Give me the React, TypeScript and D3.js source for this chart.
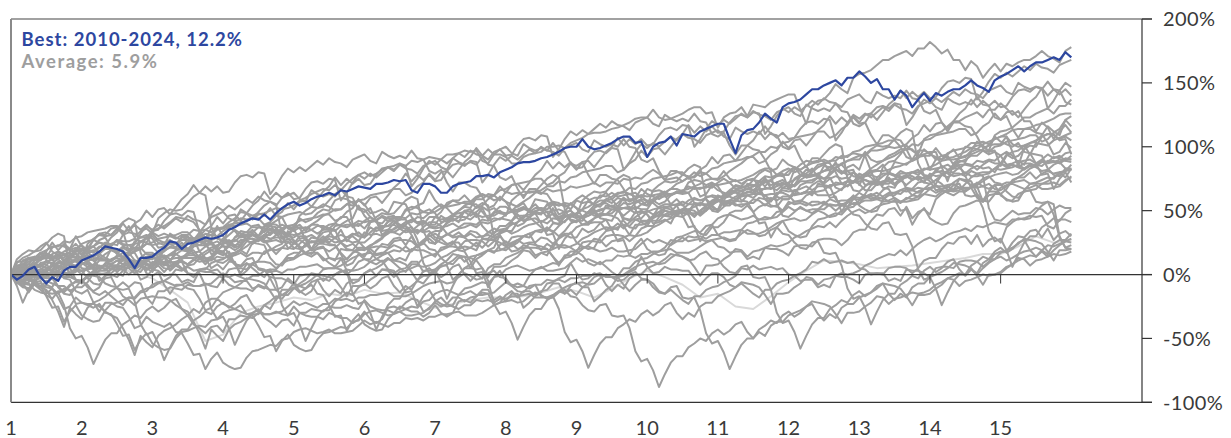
import React from "react";
import * as d3 from "d3";

// Monthly log returns (%) of the underlying index, Jan 1972 - Dec 2009 (read/estimated from the rolling windows)
const returns1970s = [
  3, 2, 0, 1, 2, -3, 1, 3, -1, 0, 3, -6,
  -2, -4, -1, -5, -2, -1, 4, -4, 4, -1, -11, 1,
  -1, 0, -2, -4, -3, -2, -8, -9, -12, 15, -5, -4,
  9, 4, 2, 3, 4, 3, -7, -3, -4, 5, 1, -5,
  10, 0, 3, -1, -1, 4, -1, 0, 2, -2, -1, 7,
  -5, -2, -1, 0, -2, 5, -2, -2, 0, -4, 3, 6,
  -6, -3, 3, 9, 1, -2, 5, 3, -1, -9, 2, 6,
  3, -5, 5, 0, -3, 3, 1, 5, 0, -8, 3, -4,
];
const returns1980s = [
  6, 0, -11, 4, 5, 3, 7, 1, 3, 2, 10, -8,
  -5, 1, 4, -2, 0, -1, 0, -6, -5, 5, 4, 0,
  -3, -6, -2, 3, -4, -4, -3, 6, 0, 5, 2, 1,
  3, 2, 3, 6, -1, 3, -3, 1, 1, -2, 1, -5,
  -1, -4, 1, 0, -6, 2, -2, 9, -1, 0, -2, -3,
  7, 1, 0, -1, 5, 1, 0, -1, -4, 4, 6, 2,
  0, 7, 5, -1, 5, 1, -6, 7, -9, 5, 2, -4,
  12, 4, 3, -1, 1, 5, 5, 3, -2, -25, -9, -1,
  4, 4, -3, 1, 0, 4, -1, -4, 4, 3, -2, 0,
  7, -3, 2, 5, 3, -1, 8, 2, -1, -3, 2, -3,
];
const returns1990s = [
  -7, 1, 2, -3, 9, -1, -1, -10, -5, -1, 6, 0,
  4, 7, 2, 0, 4, -5, 4, 2, -2, 1, -4, 7,
  -2, 1, -2, 3, 0, -2, 4, -2, 1, 0, 3, -1,
  1, 1, 2, -3, 3, 0, -1, 4, -1, 2, -1, 4,
  3, -3, -5, 1, 1, -3, 3, 4, -3, 2, -4, -1,
  3, 4, 3, 3, 4, 2, 3, 0, 4, -1, 4, 1,
  3, 1, 1, 1, 2, 0, -5, 2, 5, 3, 7, -5,
  6, 1, -5, 6, 6, 4, 7, -6, 5, -4, 4, -5,
  1, 7, 5, 1, -2, 4, -1, -16, 6, 8, 6, -3,
  4, -3, 4, 4, -3, 5, -3, -1, -3, 6, 2, 2,
];
const returns2000s = [
  -5, -2, 9, -3, -2, 2, -2, 6, -6, -1, -9, -2,
  3, -10, -7, 7, 0, -3, -1, -7, -9, 2, 7, -4,
  -2, -2, 3, -7, -1, -8, -9, 1, -12, 8, 5, -8,
  -3, -2, 1, 8, 5, 1, 2, 2, -1, 5, 1, 5,
  2, 1, -2, -2, 1, 2, -3, 0, 1, 1, 4, 4,
  -3, 2, -2, -2, 3, 0, 4, -1, 1, -2, 3, 0,
  2, 0, 1, 1, -3, 0, 0, 2, 3, 3, 2, 1,
  1, -2, 1, 4, 3, -2, -3, 1, 4, 2, -5, -1,
  -6, -4, -1, 5, 1, -9, -1, 1, -10, -18, -8, 2,
  -9, -13, 10, 9, 5, 0, 7, 3, 4, -2, 6, 3,
];

// Best window 2010-2024, cumulative log return (%) by month 0..180
const best2010to2024 = [
  0, -4, -1, 4, 6, -2, -7, -2, -5, 3, 6, 6, 11,
  13, 15, 18, 22, 21, 20, 18, 12, 5, 13, 13, 14,
  18, 21, 26, 25, 20, 24, 25, 27, 29, 28, 29, 31,
  35, 37, 40, 42, 44, 43, 47, 43, 48, 52, 55, 57,
  54, 56, 59, 61, 62, 64, 62, 66, 65, 67, 69, 68,
  67, 71, 71, 72, 74, 73, 74, 66, 64, 71, 71, 69,
  64, 64, 69, 71, 72, 73, 77, 77, 78, 76, 80, 82,
  84, 87, 88, 88, 89, 91, 92, 94, 96, 99, 100, 100,
  106, 100, 98, 99, 101, 103, 106, 108, 108, 103, 104, 92,
  100, 103, 104, 108, 101, 110, 109, 108, 112, 114, 116, 118,
  118, 106, 95, 109, 113, 114, 119, 126, 122, 119, 131, 134,
  135, 137, 141, 145, 145, 148, 150, 152, 148, 154, 154, 159,
  155, 150, 153, 145, 145, 137, 144, 140, 131, 137, 142, 136,
  142, 140, 143, 145, 145, 148, 152, 148, 146, 143, 152, 155,
  157, 160, 163, 159, 163, 166, 166, 168, 170, 168, 174, 170,
];

// Faint line, read every 3 months (0..180)
const faintPath = [
  0, 3, 1, 4, 5, 7, 6, 1, -3, -12, -22, -52, -47, -30, -25, -22, -18, -20, -15, -17,
  -12, -15, -14, -20, -26, -23, -20, -18, -18, -17, -14, -10, -13, -18, -11, -3, 3, -2, -8, -18,
  -15, -25, -27, -17, -6, 3, 11, 10, 8, 5, 6, 7, 9, 11, 13, 16, 16, 22, 30, 25, 27,
];

const historyStartYear = 1972;
const grayStartYears = d3.range(1972, 2010);
const yearLabels = d3.range(1, 16);
const yTickValues = [-100, -50, 0, 50, 100, 150, 200];
const bestLabel = "Best: 2010-2024, 12.2%";
const averageLabel = "Average: 5.9%";

const GRAY = "#9e9e9e";
const BLUE = "#2d47a0";
const FAINT = "#d9d9d9";
const FONT = "Lato, 'Open Sans', sans-serif";

export default function App() {
  const width = 1231;
  const height = 438;
  const x = d3.scaleLinear().domain([0, 192]).range([11, 1142]);
  const y = d3.scaleLinear().domain([-100, 200]).range([402.3, 19]);

  const history = [...returns1970s, ...returns1980s, ...returns1990s, ...returns2000s];
  const level: number[] = [0];
  history.forEach((r) => level.push(level[level.length - 1] + r));
  const base = level[level.length - 1];
  best2010to2024.slice(1).forEach((v) => level.push(base + v));

  const windows = grayStartYears.map((s) => {
    const i0 = (s - historyStartYear) * 12;
    return d3.range(0, 181).map((m) => level[i0 + m] - level[i0]);
  });

  const monthly = d3
    .line<number>()
    .x((_, i) => x(i))
    .y((v) => y(v));
  const quarterly = d3
    .line<number>()
    .x((_, i) => x(i * 3))
    .y((v) => y(v));

  const left = x(0);
  const right = x(192);
  const top = y(200);
  const bottom = y(-100);
  const tickEnd = right + 10;

  return (
    <svg
      width={width}
      height={height}
      style={{ position: "absolute", left: 0, top: 0, background: "#fff" }}
      fontFamily={FONT}
    >
      <rect x={0} y={0} width={width} height={height} fill="#fff" />
      <path d={quarterly(faintPath) || ""} fill="none" stroke={FAINT} strokeWidth={2} strokeLinejoin="round" />
      {windows.map((w, i) => (
        <path key={i} d={monthly(w) || ""} fill="none" stroke={GRAY} strokeWidth={2} strokeLinejoin="round" />
      ))}
      {/* zero line and its ticks */}
      <line x1={left} x2={tickEnd} y1={y(0)} y2={y(0)} stroke="#333" strokeWidth={1.2} />
      {d3.range(1, 15).map((k) => (
        <line key={k} x1={x(k * 12)} x2={x(k * 12)} y1={y(0)} y2={y(0) + 9} stroke="#333" strokeWidth={1} />
      ))}
      <path d={monthly(best2010to2024) || ""} fill="none" stroke={BLUE} strokeWidth={2.2} strokeLinejoin="round" />
      {/* frame */}
      <line x1={left} x2={tickEnd} y1={top} y2={top} stroke="#444" strokeWidth={1.2} />
      <line x1={left} x2={tickEnd} y1={bottom} y2={bottom} stroke="#333" strokeWidth={1.2} />
      <line x1={left} x2={left} y1={top} y2={bottom} stroke="#8a8a8a" strokeWidth={2} />
      <line x1={right} x2={right} y1={top} y2={bottom} stroke="#333" strokeWidth={1.2} />
      {yTickValues.map((v) => (
        <g key={v}>
          <line x1={right} x2={tickEnd} y1={y(v)} y2={y(v)} stroke="#333" strokeWidth={1.2} />
          <text x={1163} y={y(v)} dy="0.36em" fontSize={20} letterSpacing={0.4} fill="#3a3a3a">
            {`${v}%`}
          </text>
        </g>
      ))}
      {yearLabels.map((yr) => (
        <text key={yr} x={x((yr - 1) * 12)} y={434.5} textAnchor="middle" fontSize={20} fill="#3a3a3a">
          {yr}
        </text>
      ))}
      <text x={21.5} y={45.5} fontSize={18.5} fontWeight="bold" letterSpacing={1.0} fill={BLUE}>
        {bestLabel}
      </text>
      <text x={21.5} y={68} fontSize={18.5} fontWeight="bold" letterSpacing={1.5} fill={GRAY}>
        {averageLabel}
      </text>
    </svg>
  );
}
